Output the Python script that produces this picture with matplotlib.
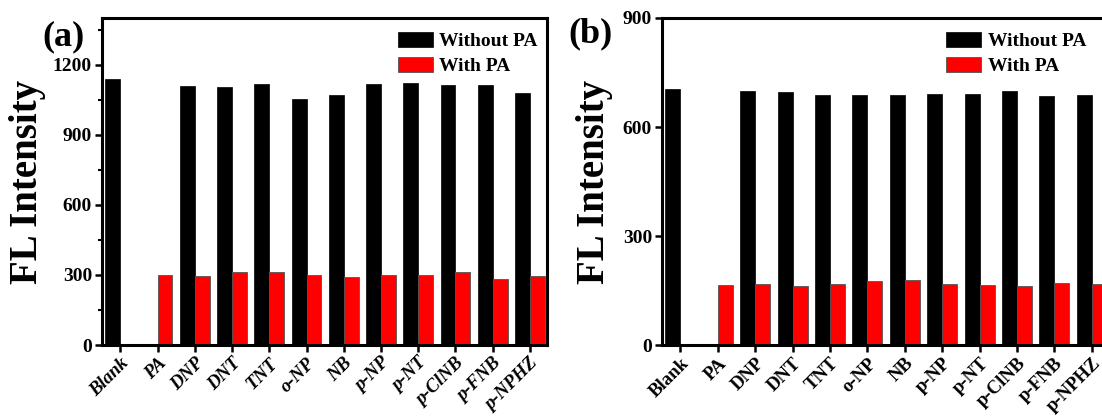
import numpy as np
import matplotlib
matplotlib.use("Agg")
import matplotlib.pyplot as plt
from matplotlib.ticker import MultipleLocator

plt.rcParams['font.family'] = ['Liberation Serif', 'DejaVu Serif']
plt.rcParams['font.weight'] = 'bold'

analytes = ['Blank', 'PA', 'DNP', 'DNT', 'TNT', 'o-NP', 'NB',
            'p-NP', 'p-NT', 'p-ClNB', 'p-FNB', 'p-NPHZ']

# panel (a)
without_a = [1139, 0, 1107, 1104, 1117, 1053, 1069, 1117, 1121, 1113, 1113, 1081]
with_a = [0, 301, 297, 311, 311, 299, 291, 301, 301, 314, 281, 294]

# panel (b)
without_b = [704, 0, 698, 695, 689, 687, 689, 692, 692, 700, 685, 687]
with_b = [0, 166, 168, 163, 169, 176, 180, 169, 166, 162, 172, 169]

W, H = 1102, 416
fig = plt.figure(figsize=(W / 100, H / 100), dpi=100)

ax_a = fig.add_axes([101.7 / W, 1 - 345 / H, 445 / W, 327 / H])
ax_b = fig.add_axes([661.7 / W, 1 - 345 / H, 447 / W, 327 / H])

x = np.arange(len(analytes))
bw = 0.4


def draw(ax, without, withpa, ymax, major, minor, italic, ylab_x, leg_anchor):
    ax.bar(x - bw / 2, without, bw, color='black', edgecolor='black',
           linewidth=0.5, label='Without PA')
    ax.bar(x + bw / 2, withpa, bw, color='#ff0000', edgecolor='#555555',
           linewidth=0.6, label='With PA')
    ax.set_xlim(-0.5, 11.45)
    ax.set_ylim(0, ymax)
    ax.yaxis.set_major_locator(MultipleLocator(major))
    if minor:
        ax.yaxis.set_minor_locator(MultipleLocator(minor))
    ax.set_xticks(x)
    ax.set_xticklabels(analytes, rotation=45, ha='right', rotation_mode='anchor',
                       fontsize=13.5, fontweight='bold',
                       style='italic' if italic else 'normal')
    for t in ax.get_yticklabels():
        t.set_fontsize(14)
        t.set_fontweight('bold')
    for s in ax.spines.values():
        s.set_linewidth(2.2)
    ax.tick_params(axis='both', which='major', direction='out', length=5,
                   width=1.8, pad=2)
    ax.tick_params(axis='y', which='minor', direction='out', length=3, width=1.5)
    ax.text(ylab_x, 0.5, 'FL Intensity', transform=ax.transAxes, rotation=90,
            ha='center', va='center', fontsize=28, fontweight='bold')
    ax.legend(loc='upper right', bbox_to_anchor=leg_anchor, frameon=False,
              fontsize=14, handlelength=1.8, handleheight=0.85,
              handletextpad=0.35, labelspacing=0.35, borderaxespad=0.3)


draw(ax_a, without_a, with_a, 1400, 300, 150, True, -0.167, (1.011, 1.0))
draw(ax_b, without_b, with_b, 900, 300, None, False, -0.15, (0.98, 1.0))

fig.text(63 / W, 1 - 37 / H, '(a)', ha='center', va='center',
         fontsize=26, fontweight='bold')
fig.text(591 / W, 1 - 34 / H, '(b)', ha='center', va='center',
         fontsize=26, fontweight='bold')

fig.savefig('out.png', dpi=100)
